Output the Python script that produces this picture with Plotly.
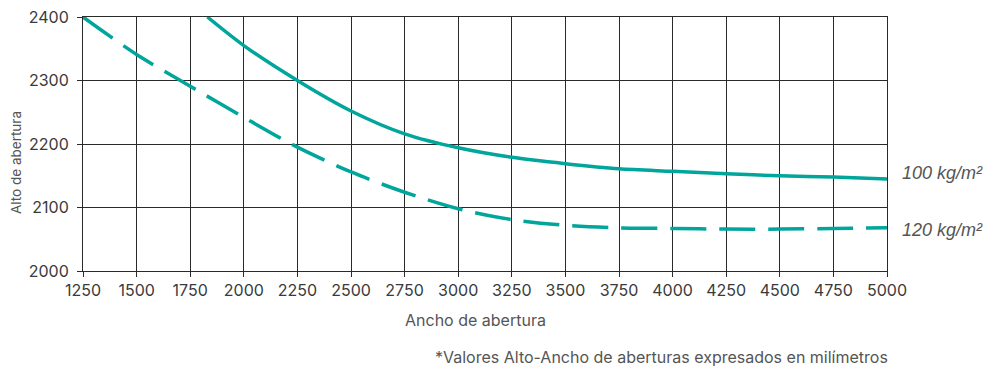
import plotly.graph_objects as go

# Data (mm)
ancho_100 = [1830, 2000, 2250, 2500, 2750, 3000, 3250, 3500, 3750, 4000, 4250, 4500, 4750, 5000]
alto_100 = [2400, 2355, 2300, 2252, 2216, 2194, 2179, 2169, 2161, 2157, 2153, 2150, 2148, 2145]

ancho_120 = [1250, 1500, 1750, 2000, 2250, 2500, 2750, 3000, 3250, 3500, 3750, 4000, 4250, 4500, 4750, 5000]
alto_120 = [2400, 2341, 2291, 2242, 2195, 2156, 2124, 2098, 2081, 2072, 2068, 2067, 2066, 2066, 2067, 2068]

x_ticks = [1250, 1500, 1750, 2000, 2250, 2500, 2750, 3000, 3250, 3500, 3750, 4000, 4250, 4500, 4750, 5000]
y_ticks = [2000, 2100, 2200, 2300, 2400]

series_labels = ["100 kg/m²", "120 kg/m²"]
label_y = [2154, 2064]

TEAL = "#00a59b"
GRID = "#2a2a2a"
FONT = "Inter"

fig = go.Figure()
fig.add_trace(go.Scatter(x=ancho_100, y=alto_100, mode="lines",
                         line=dict(color=TEAL, width=3.5, shape="spline", smoothing=0.8),
                         showlegend=False))
fig.add_trace(go.Scatter(x=ancho_120, y=alto_120, mode="lines",
                         line=dict(color=TEAL, width=3.5, shape="spline", smoothing=0.8, dash="36px,13px"),
                         showlegend=False))

for lbl, yv in zip(series_labels, label_y):
    fig.add_annotation(x=1, xref="paper", y=yv, yref="y", text="<i>" + lbl + "</i>", showarrow=False,
                       xanchor="left", xshift=13,
                       font=dict(family="Liberation Sans", size=18, color="#555555"))

fig.add_annotation(x=0.4888, xref="paper", y=-0.194, yref="paper", xanchor="center", yanchor="middle",
                   text="Ancho de abertura", showarrow=False,
                   font=dict(family=FONT, size=16, color="#555555"))
fig.add_annotation(x=-0.0825, xref="paper", y=0.428, yref="paper", xanchor="center", yanchor="middle",
                   textangle=-90,
                   text="Alto de abertura", showarrow=False,
                   font=dict(family=FONT, size=13.5, color="#555555"))
fig.add_annotation(x=1.004, xref="paper", y=-0.340, yref="paper", xanchor="right", yanchor="middle",
                   text="*Valores Alto-Ancho de aberturas expresados en milímetros", showarrow=False,
                   font=dict(family=FONT, size=16, color="#555555"))

fig.update_xaxes(range=[1250, 5000], tickvals=x_ticks, ticktext=[str(v) for v in x_ticks],
                 showgrid=True, gridcolor=GRID, gridwidth=1, zeroline=False,
                 showline=True, linecolor=GRID, linewidth=1, mirror=True, automargin=False,
                 ticks="outside", ticklen=5, tickcolor=GRID, ticklabeloverflow="allow",
                 tickfont=dict(family=FONT, size=16, color="#3a3a3a"))
fig.update_yaxes(range=[2000, 2400], tickvals=y_ticks,
                 showgrid=True, gridcolor=GRID, gridwidth=1, zeroline=False,
                 showline=True, linecolor=GRID, linewidth=1, mirror=True, automargin=False,
                 ticks="outside", ticklen=5, tickcolor=GRID, ticklabeloverflow="allow",
                 ticklabelstandoff=5,
                 tickfont=dict(family=FONT, size=16, color="#3a3a3a"))

fig.update_layout(width=1004, height=369, margin=dict(l=75, r=125, t=9, b=106),
                  plot_bgcolor="white", paper_bgcolor="white")

fig.write_html("out.html")
